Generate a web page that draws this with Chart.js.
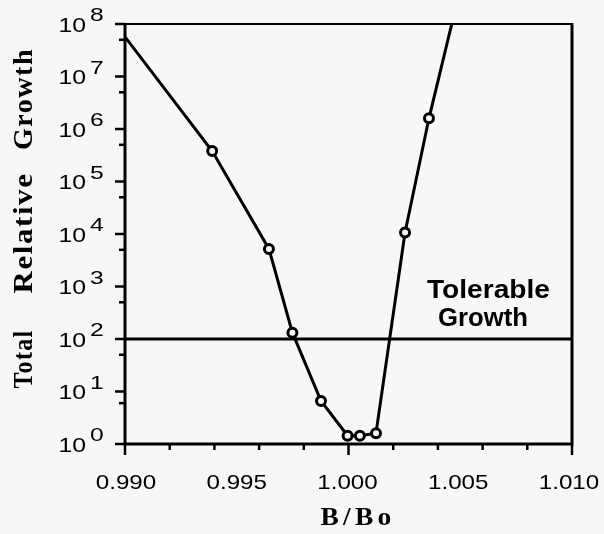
<!DOCTYPE html>
<html>
<head>
<meta charset="utf-8">
<script src="https://cdn.jsdelivr.net/npm/chart.js@4"></script>
<style>
  html, body { margin: 0; padding: 0; background: #f7f7f7; }
  #wrap { width: 604px; height: 534px; position: relative; }
</style>
</head>
<body>
<div id="wrap"><canvas id="chart"></canvas></div>
<script>
// B/Bo values and total relative growth
const bRatio = [0.9900, 0.9939, 0.99644, 0.99749, 0.99877, 0.99996, 1.00051, 1.00123, 1.00253, 1.0036, 1.00462];
const growth = [5.7e7, 3.8e5, 5.2e3, 132, 6.6, 1.44, 1.44, 1.6, 1.07e4, 1.6e6, 1e8];
const hasMarker = [false, true, true, true, true, true, true, true, true, true, false];

const tolerableGrowth = 100;

const xTickValues = [0.990, 0.995, 1.000, 1.005, 1.010];
const xTickLabels = ['0.990', '0.995', '1.000', '1.005', '1.010'];
const yTickExponents = [0, 1, 2, 3, 4, 5, 6, 7, 8];

const curve = bRatio.map((b, i) => ({ x: b, y: growth[i] }));
const limitLine = [{ x: 0.990, y: tolerableGrowth }, { x: 1.010, y: tolerableGrowth }];

const SANS = '"Liberation Sans", Arial, sans-serif';
const SERIF = '"Liberation Serif", "Times New Roman", serif';

// text stretched sideways a little, the scanned figure uses a wide face
function wideText(ctx, text, x, y, sx) {
  ctx.save();
  ctx.translate(x, y);
  ctx.scale(sx, 1);
  ctx.fillText(text, 0, 0);
  ctx.restore();
}

// centred text squeezed or stretched to a given length, optionally rotated
function fitText(ctx, text, x, y, width, angle) {
  ctx.save();
  ctx.textAlign = 'center';
  ctx.translate(x, y);
  ctx.rotate(angle || 0);
  ctx.scale(width / ctx.measureText(text).width, 1);
  ctx.fillText(text, 0, 0);
  ctx.restore();
}

// Frame, tick marks, tick labels and titles drawn from the chart's scales
const axesPlugin = {
  id: 'axesPlugin',
  afterDatasetsDraw(chart) {
    const ctx = chart.ctx;
    const area = chart.chartArea;
    const xs = chart.scales.x;
    const ys = chart.scales.y;
    ctx.save();
    ctx.strokeStyle = '#000';
    ctx.fillStyle = '#000';

    // frame: thinner top edge like the scan
    ctx.lineWidth = 2;
    ctx.beginPath();
    ctx.moveTo(area.left, area.top);
    ctx.lineTo(area.right, area.top);
    ctx.stroke();
    ctx.lineWidth = 3;
    ctx.beginPath();
    ctx.moveTo(area.right, area.top - 1);
    ctx.lineTo(area.right, area.bottom);
    ctx.lineTo(area.left, area.bottom);
    ctx.lineTo(area.left, area.top - 1);
    ctx.stroke();

    // x tick marks
    ctx.lineWidth = 2.5;
    xs.ticks.forEach(t => {
      const px = xs.getPixelForValue(t.value);
      const major = Math.round(t.value * 1000) % 5 === 0;
      ctx.beginPath();
      ctx.moveTo(px, area.bottom);
      ctx.lineTo(px, area.bottom + (major ? 11 : 6));
      ctx.stroke();
    });

    // y tick marks
    ys.ticks.forEach(t => {
      const py = ys.getPixelForValue(t.value);
      const e = Math.log10(t.value);
      const major = Math.abs(e - Math.round(e)) < 1e-9;
      ctx.beginPath();
      ctx.moveTo(area.left, py);
      ctx.lineTo(area.left - (major ? 10 : 6), py);
      ctx.stroke();
    });

    // x tick labels
    ctx.font = '21px ' + SANS;
    ctx.textAlign = 'center';
    ctx.textBaseline = 'middle';
    xTickValues.forEach((v, i) => {
      const px = xs.getPixelForValue(v);
      // labels sit slightly inward of their ticks in the figure
      const shift = (v - 1.0) * -200;
      wideText(ctx, xTickLabels[i], px + shift - 1, area.bottom + 39, 1.15);
    });

    // y tick labels as 10 with raised exponent
    yTickExponents.forEach(e => {
      const py = ys.getPixelForValue(Math.pow(10, e));
      ctx.font = '21px ' + SANS;
      ctx.textAlign = 'right';
      ctx.textBaseline = 'middle';
      wideText(ctx, '10', 86, py + 2, 1.18);
      ctx.font = '19px ' + SANS;
      ctx.textAlign = 'left';
      wideText(ctx, String(e), 90, py - 8, 1.3);
    });

    ctx.textBaseline = 'alphabetic';

    // x axis title
    ctx.font = 'bold 26px ' + SERIF;
    ctx.letterSpacing = '4px';
    fitText(ctx, 'B/Bo', 358, 525, 75);

    // y axis title, three spaced words
    ctx.font = 'bold 28px ' + SERIF;
    ctx.letterSpacing = '1.5px';
    fitText(ctx, 'Total', 32, 359, 59, -Math.PI / 2);
    fitText(ctx, 'Relative', 32, 233, 121, -Math.PI / 2);
    fitText(ctx, 'Growth', 32, 99, 102, -Math.PI / 2);

    // annotation above the tolerable growth line
    ctx.letterSpacing = '0px';
    ctx.font = 'bold 25px ' + SANS;
    fitText(ctx, 'Tolerable', 488.5, 298, 123);
    fitText(ctx, 'Growth', 483, 326, 90);

    ctx.restore();
  }
};

new Chart(document.getElementById('chart'), {
  type: 'scatter',
  data: {
    datasets: [
      {
        label: 'Total relative growth',
        data: curve,
        showLine: true,
        borderColor: '#000',
        borderWidth: 3,
        tension: 0,
        pointRadius: hasMarker.map(m => (m ? 4.5 : 0)),
        pointBorderWidth: 3,
        pointBorderColor: '#000',
        pointBackgroundColor: '#f7f7f7'
      },
      {
        label: 'Tolerable growth',
        data: limitLine,
        showLine: true,
        borderColor: '#000',
        borderWidth: 3,
        pointRadius: 0
      }
    ]
  },
  options: {
    responsive: true,
    maintainAspectRatio: false,
    animation: false,
    layout: { padding: { left: 125, top: 24, right: 32, bottom: 90 } },
    scales: {
      x: {
        type: 'linear',
        display: false,
        min: 0.990,
        max: 1.010,
        ticks: { stepSize: 0.001 }
      },
      y: {
        type: 'logarithmic',
        display: false,
        min: 1,
        max: 1e8
      }
    },
    plugins: {
      legend: { display: false },
      tooltip: { enabled: false }
    }
  },
  plugins: [axesPlugin]
});
</script>
</body>
</html>
